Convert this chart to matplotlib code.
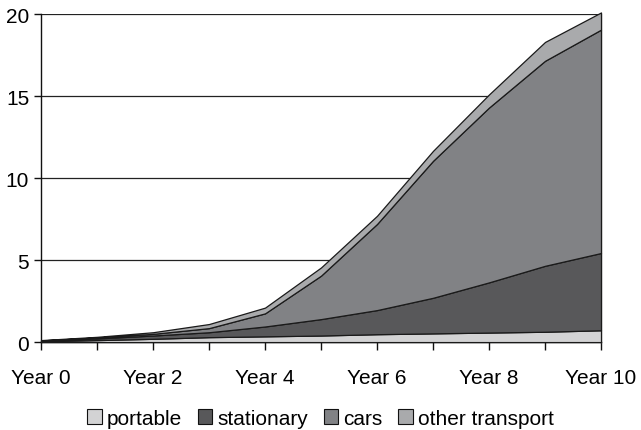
"""Stacked area chart: market growth by segment, Year 0 to Year 10."""

import matplotlib
matplotlib.use("Agg")
import matplotlib.pyplot as plt
from matplotlib.patches import Patch

YEARS = list(range(11))
TICK_LABELS = ["Year 0", "Year 2", "Year 4", "Year 6", "Year 8", "Year 10"]

PORTABLE = [0.05, 0.12, 0.20, 0.30, 0.35, 0.40, 0.48, 0.53, 0.58, 0.63, 0.72]
STATIONARY = [0.03, 0.10, 0.20, 0.30, 0.60, 1.00, 1.47, 2.17, 3.06, 4.02, 4.71]
CARS = [0.02, 0.06, 0.10, 0.25, 0.80, 2.65, 5.25, 8.35, 10.66, 12.50, 13.62]
OTHER_TRANSPORT = [0.02, 0.04, 0.10, 0.25, 0.35, 0.50, 0.50, 0.61, 0.80, 1.15, 1.05]

SERIES = ["portable", "stationary", "cars", "other transport"]
COLORS = ["#d3d3d4", "#58585a", "#818285", "#a9aaac"]

plt.rcParams["font.family"] = ["Liberation Sans", "DejaVu Sans"]

fig = plt.figure(figsize=(6.41, 4.31), dpi=100, facecolor="white")
ax = fig.add_axes([0.064, 0.204, 0.8736, 0.761])

polys = ax.stackplot(YEARS, PORTABLE, STATIONARY, CARS, OTHER_TRANSPORT,
                     colors=COLORS, edgecolor="#1a1a1a", linewidth=0.9,
                     zorder=3)
for p in polys:
    p.set_clip_on(False)

ax.set_xlim(0, 10)
ax.set_ylim(0, 20)
ax.set_yticks([0, 5, 10, 15, 20])
ax.set_xticks(YEARS)
ax.set_xticklabels([TICK_LABELS[i // 2] if i % 2 == 0 else "" for i in YEARS])
ax.yaxis.grid(True, color="#222222", linewidth=0.9, zorder=1)
ax.set_axisbelow(True)

ax.spines["top"].set_visible(False)
ax.spines["right"].set_color("#888888")
ax.spines["right"].set_linewidth(1.0)
for side in ("left", "bottom"):
    ax.spines[side].set_color("#111111")
    ax.spines[side].set_linewidth(1.0)

ax.tick_params(axis="x", direction="out", length=6, width=1, labelsize=15,
               pad=13, color="#111111")
ax.tick_params(axis="y", direction="out", length=5, width=1, labelsize=15,
               pad=3.5, color="#111111")

handles = [Patch(facecolor=c, edgecolor="#111111", linewidth=0.8)
           for c in COLORS]
fig.legend(handles, SERIES, loc="center", bbox_to_anchor=(0.5, 0.027),
           ncol=4, frameon=False, fontsize=15, handlelength=0.7,
           handleheight=0.7, handletextpad=0.25, columnspacing=0.75,
           borderpad=0)

fig.savefig("out.png", dpi=100, facecolor="white")
plt.close(fig)
